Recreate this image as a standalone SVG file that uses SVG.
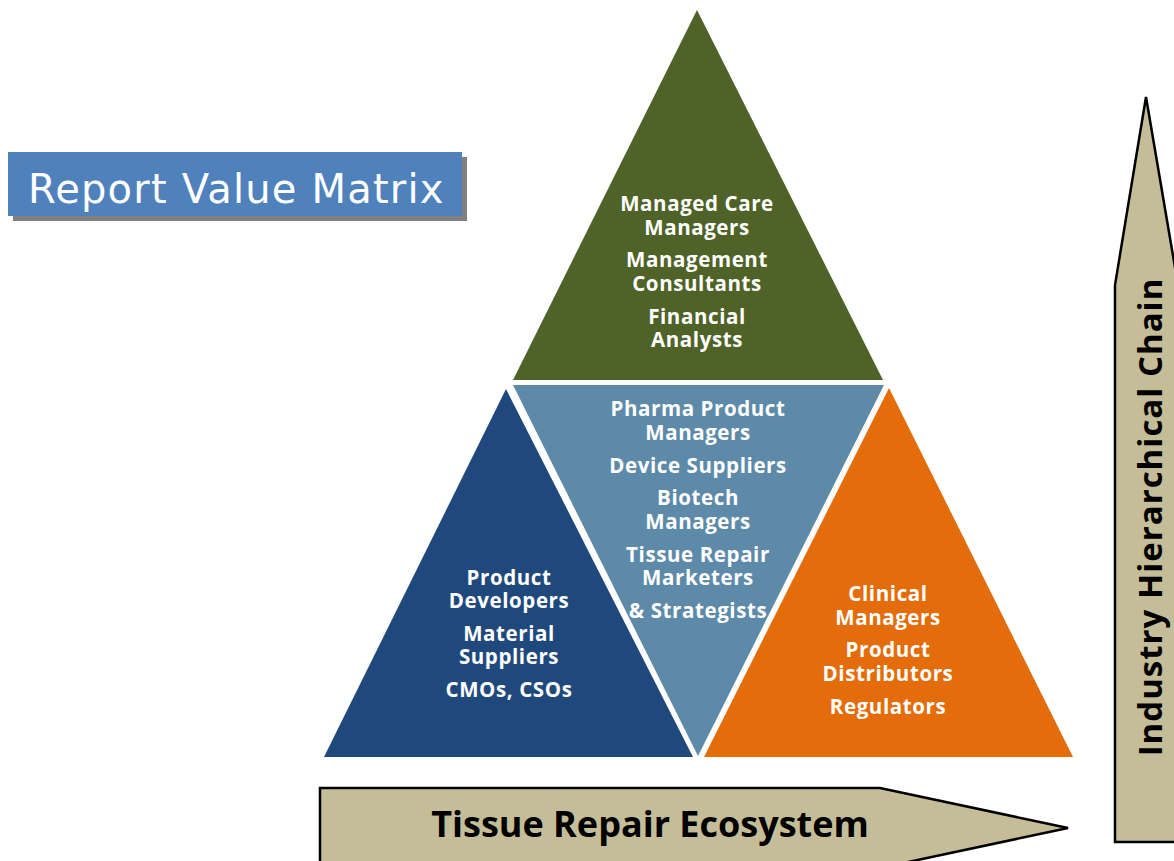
<svg xmlns="http://www.w3.org/2000/svg" width="1174" height="861" viewBox="0 0 1174 861">
<style>
.lbl{font-family:"Open Sans","Liberation Sans",sans-serif;font-weight:700;font-size:20.5px;letter-spacing:0.6px;fill:#fff;text-anchor:middle}
.arrow{fill:#C4BD97;stroke:#000;stroke-width:2.5;stroke-linejoin:miter}
.big{font-family:"Open Sans","Liberation Sans",sans-serif;font-weight:700;fill:#000;text-anchor:middle}
</style>
<rect width="1174" height="861" fill="#fff"/>
<g id="title">
<rect x="13" y="157" width="454" height="64" fill="#808080"/>
<rect x="8" y="152" width="454" height="64" fill="#4F81BD"/>
<text x="28" y="203" font-family="DejaVu Sans,Verdana,sans-serif" font-size="40" letter-spacing="1.2" fill="#fff">Report Value Matrix</text>
</g>
<g id="top-triangle">
<polygon points="697,10 513,380 883,380" fill="#4F6228"/>
<text class="lbl" x="697" y="211">Managed Care</text>
<text class="lbl" x="697" y="235">Managers</text>
<text class="lbl" x="697" y="267">Management</text>
<text class="lbl" x="697" y="291">Consultants</text>
<text class="lbl" x="697" y="324">Financial</text>
<text class="lbl" x="697" y="347">Analysts</text>
</g>
<g id="center-triangle">
<polygon points="513,385 884,385 698,756" fill="#5E8AAA"/>
<text class="lbl" x="698" y="416">Pharma Product</text>
<text class="lbl" x="698" y="440">Managers</text>
<text class="lbl" x="698" y="473">Device Suppliers</text>
<text class="lbl" x="698" y="505">Biotech</text>
<text class="lbl" x="698" y="529">Managers</text>
<text class="lbl" x="698" y="562">Tissue Repair</text>
<text class="lbl" x="698" y="585">Marketers</text>
<text class="lbl" x="698" y="618">&amp; Strategists</text>
</g>
<g id="left-triangle">
<polygon points="506,389 324,757 693,757" fill="#1F497D"/>
<text class="lbl" x="509" y="585">Product</text>
<text class="lbl" x="509" y="608">Developers</text>
<text class="lbl" x="509" y="641">Material</text>
<text class="lbl" x="509" y="664">Suppliers</text>
<text class="lbl" x="509" y="697">CMOs, CSOs</text>
</g>
<g id="right-triangle">
<polygon points="889,388 704,757 1073,757" fill="#E46C0A"/>
<text class="lbl" x="888" y="601">Clinical</text>
<text class="lbl" x="888" y="625">Managers</text>
<text class="lbl" x="888" y="657">Product</text>
<text class="lbl" x="888" y="681">Distributors</text>
<text class="lbl" x="888" y="714">Regulators</text>
</g>
<g id="ecosystem-arrow">
<polygon class="arrow" points="320,788 880,788 1068,828 880,868 320,868"/>
<text class="big" x="650" y="837" font-size="36">Tissue Repair Ecosystem</text>
</g>
<g id="hierarchy-arrow">
<polygon class="arrow" points="1146,97 1178,285 1178,842 1115,842 1115,285"/>
<text class="big" x="0" y="0" font-size="33" letter-spacing="1" transform="translate(1162,517) rotate(-90)">Industry Hierarchical Chain</text>
</g>
<g id="connectors"></g>
</svg>
